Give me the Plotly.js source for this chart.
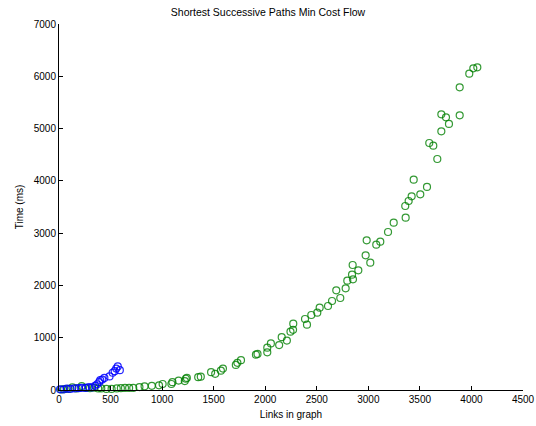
<!DOCTYPE html>
<html>
<head>
<meta charset="utf-8">
<script src="https://cdn.plot.ly/plotly-3.0.1.min.js"></script>
<style>html,body{margin:0;padding:0;background:#fff;}#chart{width:536px;height:426px;}</style>
</head>
<body>
<div id="chart"></div>
<script>
const chartTitle = "Shortest Successive Paths Min Cost Flow";
const xTitle = "Links in graph";
const yTitle = "Time (ms)";
const xTicks = [0, 500, 1000, 1500, 2000, 2500, 3000, 3500, 4000, 4500];
const yTicks = [0, 1000, 2000, 3000, 4000, 5000, 6000, 7000];

const blueLinks = [10, 40, 75, 110, 150, 190, 220, 260, 290, 320, 350, 370, 390, 400, 420, 440, 490, 520, 540, 555, 570, 590];
const blueTime  = [13, 10, 25, 20, 30, 35, 40, 40, 55, 50, 80, 110, 150, 190, 200, 230, 260, 330, 360, 410, 450, 380];

const greenLinks = [20, 50, 90, 130, 170, 220, 260, 300, 340, 380, 410, 460, 510, 560, 600, 640, 680, 720, 780, 830,
  900, 970, 1005, 1090, 1100, 1160, 1220, 1230, 1240, 1350, 1375, 1475, 1515, 1570, 1590, 1715, 1730, 1765, 1910, 1925,
  2020, 2020, 2055, 2135, 2160, 2210, 2245, 2270, 2272, 2405, 2386, 2447, 2505, 2528, 2609, 2648, 2728, 2689, 2780, 2796,
  2851, 2842, 2903, 2848, 3019, 2974, 3077, 3116, 2984, 3191, 3246, 3362, 3358, 3391, 3420, 3504, 3569, 3440, 3669, 3630,
  3591, 3708, 3782, 3753, 3708, 3886, 3886, 3979, 4018, 4057];
const greenTime = [10, 15, 20, 50, 30, 75, 40, 35, 45, 30, 30, 20, 20, 30, 35, 40, 40, 40, 55, 70,
  80, 90, 115, 115, 150, 180, 170, 215, 230, 245, 255, 340, 310, 370, 410, 480, 520, 570, 675, 690,
  720, 810, 890, 860, 1010, 945, 1115, 1150, 1268, 1249, 1358, 1434, 1479, 1575, 1607, 1702, 1760, 1907, 1945, 2091,
  2117, 2205, 2289, 2391, 2435, 2576, 2779, 2837, 2863, 3022, 3200, 3296, 3519, 3615, 3705, 3743, 3883, 4022, 4418, 4673,
  4724, 4948, 5088, 5216, 5273, 5254, 5789, 6050, 6153, 6172];

const font = {family: "Liberation Sans, Arial, sans-serif", size: 10, color: "#000"};

const traces = [
  {x: greenLinks, y: greenTime, type: "scatter", mode: "markers", cliponaxis: false,
   marker: {symbol: "circle-open", size: 7, color: "rgba(0,128,0,0.8)", line: {width: 1.2}}, name: "green"},
  {x: blueLinks, y: blueTime, type: "scatter", mode: "markers", cliponaxis: false,
   marker: {symbol: "circle-open", size: 7, color: "rgba(0,0,255,0.85)", line: {width: 1.2}}, name: "blue"}
];

const axisCommon = {
  showgrid: false, zeroline: false, showline: true, linecolor: "#000", linewidth: 1,
  ticks: "inside", ticklen: 4, tickcolor: "#000", tickwidth: 1, mirror: false,
  tickfont: font
};

const layout = {
  width: 536, height: 426,
  margin: {l: 59, r: 13, t: 24, b: 36},
  paper_bgcolor: "#fff", plot_bgcolor: "#fff",
  showlegend: false,
  font: font,
  title: {text: chartTitle, font: {family: font.family, size: 10.5, color: "#000"}, x: 0.5, xanchor: "center", y: 0.97, yanchor: "middle"},
  xaxis: Object.assign({}, axisCommon, {range: [0, 4500], tickvals: xTicks, ticktext: xTicks.map(String),
    title: {text: xTitle, font: {family: font.family, size: 10, color: "#000"}, standoff: 6}}),
  yaxis: Object.assign({}, axisCommon, {range: [0, 7000], tickvals: yTicks, ticktext: yTicks.map(String),
    title: {text: yTitle, font: {family: font.family, size: 10, color: "#000"}, standoff: 8}})
};

Plotly.newPlot("chart", traces, layout, {displayModeBar: false, staticPlot: true});
</script>
</body>
</html>
